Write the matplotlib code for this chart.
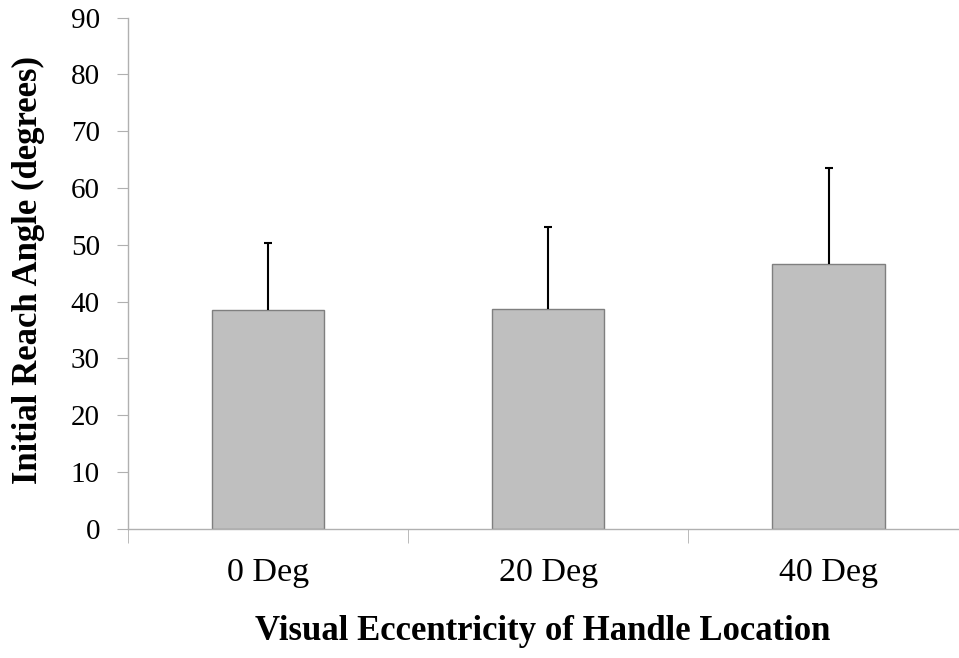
import numpy as np
import matplotlib.pyplot as plt

# data
categories = ['0 Deg', '20 Deg', '40 Deg']
means = [38.6, 38.7, 46.7]
upper_err = [11.7, 14.4, 16.9]

plt.rcParams['font.family'] = ['Liberation Serif', 'DejaVu Serif']

fig = plt.figure(figsize=(9.59, 6.58), dpi=100)
ax = fig.add_axes([127.7 / 959, 129.3 / 658, 841 / 959, 511 / 658])

x = np.arange(1, len(categories) + 1)
ax.bar(x, means, width=0.4, color='#bfbfbf', edgecolor='#7f7f7f', linewidth=1.0, zorder=2)
eb = ax.errorbar(x, means, yerr=[np.zeros(len(means)), upper_err], fmt='none',
                 ecolor='black', elinewidth=1.5, capsize=3, capthick=1.5, zorder=3)
# only the upper cap
for cap in eb[1]:
    if np.allclose(cap.get_ydata(), means):
        cap.set_visible(False)

ax.set_xlim(0.5, 3.5)
ax.set_ylim(0, 90)
ax.set_yticks(np.arange(0, 91, 10))

ax.set_xticks(x)
ax.set_xticklabels(categories, fontsize=24.5)
ax.set_xticks(np.arange(0.5, 3.6, 1), minor=True)
ax.tick_params(axis='x', which='major', length=0, pad=21)
ax.tick_params(axis='x', which='minor', length=10, color='#b0b0b0', direction='out')
ax.tick_params(axis='y', length=8, color='#b0b0b0', labelsize=21, pad=12, direction='out')

for s in ['top', 'right']:
    ax.spines[s].set_visible(False)
for s in ['left', 'bottom']:
    ax.spines[s].set_color('#b0b0b0')
    ax.spines[s].set_linewidth(1.0)

fig.text(543 / 959, (658 - 631) / 658, 'Visual Eccentricity of Handle Location',
         ha='center', va='center', fontsize=25, fontweight='bold')
fig.text(28 / 959, (658 - 270) / 658, 'Initial Reach Angle (degrees)',
         ha='center', va='center', rotation=90, fontsize=25, fontweight='bold')

fig.savefig('out.png', dpi=100)
